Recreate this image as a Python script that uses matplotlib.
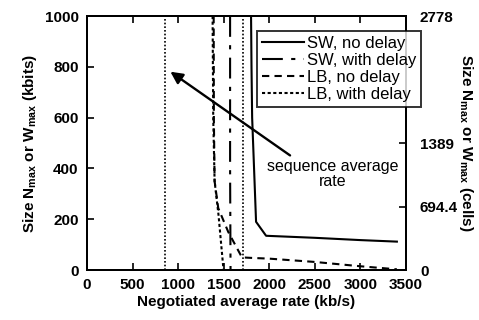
import matplotlib
matplotlib.use("Agg")
import matplotlib.pyplot as plt

plt.rcParams['font.family'] = ['Liberation Sans', 'DejaVu Sans']
plt.rcParams['mathtext.fontset'] = 'custom'
plt.rcParams['mathtext.rm'] = 'Liberation Sans'

# data (rate in kb/s, size in kbits)
sw_nodelay_x = [1800, 1805, 1812, 1855, 1965, 2500, 3000, 3400]
sw_nodelay_y = [1000, 800, 600, 190, 135, 127, 118, 112]

sw_delay_x = [1570, 1570, 1575]
sw_delay_y = [1000, 400, 0]

lb_nodelay_x = [1390, 1392, 1400, 1440, 1550, 1700, 1800, 2000, 2500, 3000, 3400]
lb_nodelay_y = [1000, 600, 350, 244, 150, 50, 48, 45, 32, 15, 3]

lb_delay_x = [1378, 1385, 1400, 1443, 1470, 1498]
lb_delay_y = [1000, 600, 350, 217, 110, 0]

seq_avg_rate = 860
ref_rate = 1710

right_ticks = [0, 694.4, 1389, 2778]
right_labels = ['0', '694.4', '1389', '2778']

fig = plt.figure(figsize=(4.79, 3.2), dpi=100)
ax = fig.add_axes([0.1816, 0.156, 0.666, 0.794])

ax.plot(sw_nodelay_x, sw_nodelay_y, color='black', lw=1.5, label='SW, no delay')
ax.plot(sw_delay_x, sw_delay_y, color='black', lw=1.5,
        linestyle=(0, (10, 4, 2, 4)), label='SW, with delay')
ax.plot(lb_nodelay_x, lb_nodelay_y, color='black', lw=1.5,
        linestyle=(0, (3.5, 2.5)), label='LB, no delay')
ax.plot(lb_delay_x, lb_delay_y, color='black', lw=1.5,
        linestyle=(0, (1.5, 1.2)), label='LB, with delay')

ax.axvline(seq_avg_rate, color='black', lw=1.2, linestyle=(0, (1, 1.2)))
ax.axvline(ref_rate, color='black', lw=1.2, linestyle=(0, (1, 1.2)))

ax.annotate('', xy=(890, 787), xytext=(2253, 445),
            arrowprops=dict(arrowstyle='-|>', color='black', lw=1.7,
                            mutation_scale=18))
ax.text(2700, 380, 'sequence average\nrate', ha='center', va='center',
        fontsize=11.5, linespacing=1.0)

ax.set_xlim(0, 3500)
ax.set_ylim(0, 1000)
ax.set_xticks(range(0, 3501, 500))
ax.set_yticks(range(0, 1001, 200))
ax.tick_params(direction='in', length=5, width=1.2, labelsize=11, pad=6,
               top=True)
for lab in ax.get_xticklabels() + ax.get_yticklabels():
    lab.set_fontweight('bold')
for s in ax.spines.values():
    s.set_linewidth(1.4)

ax.set_xlabel('Negotiated average rate (kb/s)', fontsize=11, fontweight='bold',
              labelpad=2)
ax.set_ylabel(r'Size N$_{\mathregular{max}}$ or W$_{\mathregular{max}}$ (kbits)',
              fontsize=11, fontweight='bold', labelpad=4)

ax2 = ax.twinx()
ax2.set_ylim(0, 2778)
ax2.set_yticks(right_ticks)
ax2.set_yticklabels(right_labels, fontweight='bold')
ax2.tick_params(direction='in', length=5, width=1.2, labelsize=11, pad=10)
ax2.set_ylabel(r'Size N$_{\mathregular{max}}$ or W$_{\mathregular{max}}$ (cells)',
               fontsize=11, fontweight='bold', rotation=270, labelpad=12)
for s in ax2.spines.values():
    s.set_linewidth(1.4)

leg = ax.legend(loc='upper left', bbox_to_anchor=(257 / 479, 1 - 31 / 320),
                bbox_transform=fig.transFigure, fontsize=12, frameon=True,
                fancybox=False, edgecolor='black', handlelength=2.5,
                handletextpad=0.2, labelspacing=0.12, borderpad=0.3,
                borderaxespad=0)
leg.get_frame().set_linewidth(1.4)
leg.set_zorder(5)
leg.remove()
ax2.add_artist(leg)

fig.savefig('out.png', dpi=100)
